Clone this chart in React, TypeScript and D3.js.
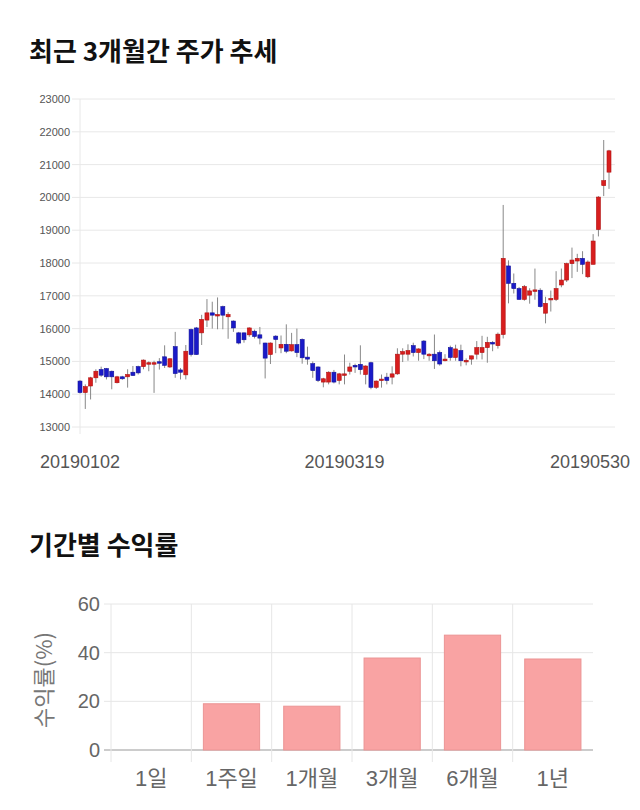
import React from "react";
import * as d3 from "d3";

const dates = [
  "20190102","20190103","20190104","20190107","20190108","20190109","20190110","20190111","20190114","20190115","20190116","20190117","20190118","20190121","20190122","20190123","20190124","20190125","20190128","20190129","20190130","20190131",
  "20190201","20190207","20190208","20190211","20190212","20190213","20190214","20190215","20190218","20190219","20190220","20190221","20190222","20190225","20190226","20190227","20190228",
  "20190304","20190305","20190306","20190307","20190308","20190311","20190312","20190313","20190314","20190315","20190318","20190319","20190320","20190321","20190322","20190325","20190326","20190327","20190328","20190329",
  "20190401","20190402","20190403","20190404","20190405","20190408","20190409","20190410","20190411","20190412","20190415","20190416","20190417","20190418","20190419","20190422","20190423","20190424","20190425","20190426","20190429","20190430",
  "20190502","20190503","20190507","20190508","20190509","20190510","20190513","20190514","20190515","20190516","20190517","20190520","20190521","20190522","20190523","20190524","20190527","20190528","20190529","20190530"
];
const opens = [
  14400,14050,14250,14500,14750,14780,14700,14350,14530,14530,
  14670,14840,14840,14920,14950,14990,15140,14830,15450,14740,
  14590,15970,16020,15870,16260,16480,16420,16670,16360,16230,
  15870,15870,15810,15920,15810,15560,15210,15770,15410,15520,
  15320,15510,15670,15130,14930,14830,14370,14370,14670,14420,
  14610,14700,14880,14910,14600,14960,14210,14420,14520,14520,
  14620,15220,15220,15480,15270,15620,15170,15220,15270,15020,
  15420,15120,15330,15020,15070,15220,15270,15420,15580,15480,
  15820,17910,17380,17220,16890,17020,17170,17170,16470,16900,
  16890,17330,17480,17980,18060,18140,17580,17960,19020,20360,20770
];
const closes = [
  14050,14230,14500,14700,14580,14530,14530,14530,14470,14600,
  14570,14650,15040,14960,14960,14950,14880,15080,14630,14670,
  15310,15210,15210,16280,16480,16410,16430,16410,16430,16020,
  15560,15660,16020,15760,15710,15100,15560,15670,15520,15310,
  15510,15270,15110,15070,14720,14420,14470,14670,14370,14620,
  14620,14830,14830,14750,14860,14210,14400,14460,14420,14620,
  15220,15300,15330,15270,15380,15220,15220,15020,14920,15070,
  15120,15380,15020,15030,15170,15420,15420,15580,15530,15830,
  18140,17380,17220,16890,17280,17150,17180,16670,16770,16920,
  17220,17480,17980,18090,18140,17960,18030,18670,20010,20510,21420
];
const highs = [
  14430,14300,14530,14760,14840,14800,14720,14560,14560,14760,
  14860,14870,15060,15000,15020,15100,15490,15100,15900,14800,
  15500,16000,16050,16420,16900,16820,16950,16700,16500,16250,
  15900,15880,16040,15970,16050,15570,15580,15800,15790,16130,
  15870,16000,15700,15450,15000,14850,14500,14700,14740,14650,
  15210,14960,14930,15490,14880,14990,14420,14600,14650,14850,
  15400,15400,15520,15570,15400,15650,15250,15820,15330,15220,
  15480,15510,15510,15090,15170,15620,15780,15750,15620,15880,
  19770,18080,17680,17270,17330,17230,17830,17230,16970,17160,
  17750,17830,18010,18470,18280,18360,18080,18880,20040,21750,21450
];
const lows = [
  14020,13550,13840,14350,14530,14450,14150,14330,14440,14200,
  14560,14600,14760,14700,14040,14750,14800,14800,14500,14450,
  14450,15150,15200,15500,16050,16000,15980,15980,15690,15900,
  15520,15570,15750,15700,15520,14480,14920,15250,15250,15250,
  15300,15130,14930,14900,14500,14370,14210,14300,14330,14300,
  14300,14600,14650,14600,14300,14150,14160,14200,14300,14300,
  14590,14980,15020,15150,15020,15070,15020,14770,14870,15000,
  15020,15020,14850,14880,14900,15060,15060,14960,15310,15390,
  15700,16770,17070,16880,16850,16760,16880,16640,16160,16520,
  16840,17260,17420,17540,17730,17660,17540,17960,18810,20040,20260
];
const priceTicks = [13000,14000,15000,16000,17000,18000,19000,20000,21000,22000,23000];
const dateLabels = ["20190102","20190319","20190530"];

const periods = ["1일","1주일","1개월","3개월","6개월","1년"];
const returns = [0, 19.0, 18.0, 37.8, 47.2, 37.4];
const returnTicks = [0, 20, 40, 60];

const NUM_FONT = "'Liberation Sans', 'Noto Sans CJK KR', sans-serif";
const KR_FONT = "'Noto Sans CJK KR', sans-serif";

export default function App() {
  const x = d3.scalePoint<string>().domain(dates).range([80, 609]);
  const y = d3.scaleLinear().domain([13000, 23000]).range([427, 99]);
  const bw = 4;

  const bx = d3.scaleBand<string>().domain(periods).range([111, 593]).paddingInner(0.3).paddingOuter(0.15);
  const by = d3.scaleLinear().domain([0, 60]).range([750, 604]);
  const step = (593 - 111) / periods.length;

  const labelX = (d: string, i: number) => {
    if (i === 0) return { x: x(d)!, anchor: "middle" };
    if (i === dateLabels.length - 1) return { x: 630, anchor: "end" };
    return { x: x(d)!, anchor: "middle" };
  };

  return (
    <svg width={640} height={810} style={{ position: "absolute", left: 0, top: 0, background: "#fff" }}>
      <text x={29} y={61} fontFamily={KR_FONT} fontWeight="bold" fontSize={26} fill="#111">최근 3개월간 주가 추세</text>

      {priceTicks.map((t) => (
        <g key={t}>
          <line x1={72} x2={615} y1={y(t)} y2={y(t)} stroke="#e8e8e8" strokeWidth={1} />
          <text x={70} y={y(t) + 4} textAnchor="end" fontFamily={NUM_FONT} fontSize={11} fill="#555">{t}</text>
        </g>
      ))}
      <line x1={80} x2={80} y1={99} y2={434} stroke="#e8e8e8" strokeWidth={1} />
      {dateLabels.map((d, i) => {
        const p = labelX(d, i);
        return (
          <text key={d} x={p.x} y={468} textAnchor={p.anchor as any} fontFamily={NUM_FONT} fontSize={18} fill="#555">{d}</text>
        );
      })}

      {dates.map((d, i) => {
        const o = opens[i], c = closes[i], h = highs[i], l = lows[i];
        const up = c >= o;
        const cx = x(d)!;
        const top = y(Math.max(o, c));
        const bot = y(Math.min(o, c));
        const hgt = Math.max(bot - top, 1.5);
        return (
          <g key={d}>
            <line x1={cx} x2={cx} y1={y(h)} y2={y(l)} stroke="#888" strokeWidth={1} />
            <rect x={cx - bw / 2} y={top} width={bw} height={hgt}
              fill={up ? "#d81e1e" : "#1a1ac8"} stroke={up ? "#b01010" : "#10109a"} strokeWidth={0.6} />
          </g>
        );
      })}

      <text x={29} y={555} fontFamily={KR_FONT} fontWeight="bold" fontSize={26} fill="#111">기간별 수익률</text>

      {returnTicks.map((t) => (
        <g key={t}>
          <line x1={104} x2={593} y1={by(t)} y2={by(t)} stroke={t === 0 ? "#999" : "#e6e6e6"} strokeWidth={1} />
          <text x={100} y={by(t) + 7} textAnchor="end" fontFamily={NUM_FONT} fontSize={20} fill="#666">{t}</text>
        </g>
      ))}
      {periods.map((p, i) => (
        <line key={"v" + p} x1={111 + i * step} x2={111 + i * step} y1={604} y2={762} stroke="#e6e6e6" strokeWidth={1} />
      ))}
      {periods.map((p, i) => (
        returns[i] > 0 ? (
          <rect key={"b" + p} x={bx(p)!} y={by(returns[i])} width={bx.bandwidth()} height={by(0) - by(returns[i])}
            fill="#f9a3a3" stroke="#eb9494" strokeWidth={1} />
        ) : null
      ))}
      {periods.map((p) => (
        <text key={"t" + p} x={bx(p)! + bx.bandwidth() / 2} y={786} textAnchor="middle" fontFamily={NUM_FONT} fontSize={22} fill="#666">{p}</text>
      ))}
      <text transform="translate(52,680) rotate(-90)" textAnchor="middle" fontFamily={KR_FONT} fontSize={22} fill="#777">수익률(%)</text>
    </svg>
  );
}
